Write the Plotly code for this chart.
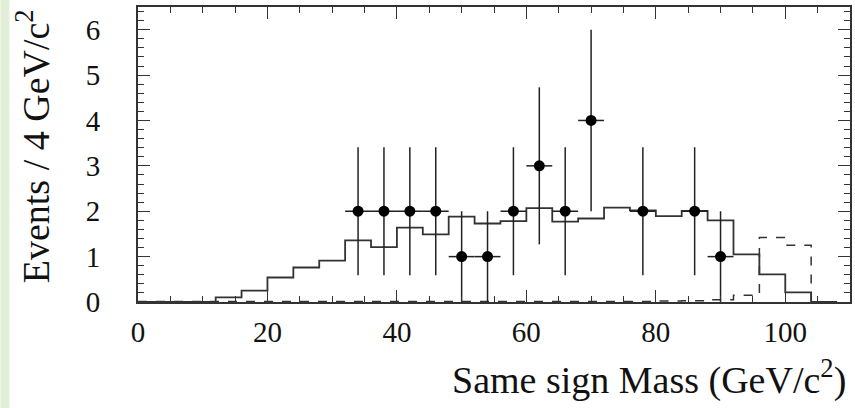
import plotly.graph_objects as go

# ---- data ----
bin_edges = [0, 4, 8, 12, 16, 20, 24, 28, 32, 36, 40, 44, 48, 52, 56, 60, 64, 68,
             72, 76, 80, 84, 88, 92, 96, 100, 104, 108]
solid_hist = [0, 0, 0, 0.10, 0.25, 0.54, 0.76, 0.91, 1.36, 1.21, 1.64, 1.49, 1.88,
              1.73, 1.78, 2.07, 1.77, 1.84, 2.08, 2.02, 1.89, 2.01, 1.80, 1.05,
              0.61, 0.21, 0]
dashed_hist = [0.01, 0.01, 0.01, 0.01, 0.01, 0.01, 0.01, 0.01, 0.01, 0.01, 0.01,
               0.01, 0.01, 0.01, 0.01, 0.01, 0.01, 0.01, 0.01, 0.01, 0.02, 0.03,
               0.05, 0.15, 1.42, 1.25, 0]
data_x = [34, 38, 42, 46, 50, 54, 58, 62, 66, 70, 78, 86, 90]
data_y = [2, 2, 2, 2, 1, 1, 2, 3, 2, 4, 2, 2, 1]
data_err = [1.41, 1.41, 1.41, 1.41, 1.0, 1.0, 1.41, 1.73, 1.41, 2.0, 1.41, 1.41, 1.0]
data_xerr = [2] * len(data_x)
x_ticks = [0, 20, 40, 60, 80, 100]
y_ticks = [0, 1, 2, 3, 4, 5, 6]


def step_xy(edges, vals):
    xs = list(edges)
    ys = list(vals) + [vals[-1]]
    return xs, ys


FONT = "Liberation Serif"
fig = go.Figure()

sx, sy = step_xy(bin_edges, dashed_hist)
fig.add_trace(go.Scatter(x=sx, y=sy, mode="lines", line_shape="hv",
                         line=dict(color="#333333", width=1.5, dash="dash"),
                         showlegend=False, hoverinfo="skip"))

sx, sy = step_xy(bin_edges, solid_hist)
fig.add_trace(go.Scatter(x=sx, y=sy, mode="lines", line_shape="hv",
                         line=dict(color="#333333", width=1.8),
                         showlegend=False, hoverinfo="skip"))

fig.add_trace(go.Scatter(
    x=data_x, y=data_y, mode="markers",
    marker=dict(color="black", size=11, symbol="circle"),
    error_y=dict(type="data", array=data_err, visible=True, width=0,
                 thickness=1.5, color="#222222"),
    error_x=dict(type="data", array=data_xerr, visible=True, width=0,
                 thickness=1.5, color="#222222"),
    showlegend=False))

axis_common = dict(
    showgrid=False, zeroline=False, showline=True, linecolor="#333333",
    linewidth=1.8, mirror="ticks", ticks="inside", tickcolor="#333333",
    tickwidth=1, tickfont=dict(family=FONT, size=29, color="#111111"),
)

fig.update_xaxes(range=[0, 110], tickvals=x_ticks, ticklen=12,
                 minor=dict(dtick=5, ticklen=6, ticks="inside",
                            tickcolor="#333333", tickwidth=1),
                 ticklabelstandoff=3, **axis_common)
fig.update_yaxes(range=[0, 6.5], tickvals=y_ticks, ticklen=12,
                 minor=dict(dtick=0.2, ticklen=6, ticks="inside",
                            tickcolor="#333333", tickwidth=1),
                 ticklabelstandoff=30, **axis_common)

L, R, T, B = 138, 3, 7, 106
W, H = 855, 408
pw = W - L - R
ph = H - T - B

fig.update_layout(
    width=W, height=H,
    margin=dict(l=L, r=R, t=T, b=B, pad=0),
    paper_bgcolor="white", plot_bgcolor="white",
    font=dict(family=FONT, color="#111111"),
    shapes=[dict(type="rect", xref="paper", yref="paper",
                 x0=-L / pw, x1=(9 - L) / pw, y0=-B / ph, y1=(H - B) / ph,
                 fillcolor="#e3eed9", line=dict(width=0), layer="below")],
    annotations=[
        dict(text="Same sign Mass (GeV/c<sup>2</sup>)", xref="paper", yref="paper",
             x=(850 - L) / pw, y=-(404 - (H - B)) / ph, xanchor="right",
             yanchor="bottom", showarrow=False,
             font=dict(family=FONT, size=38, color="#111111")),
        dict(text="Events / 4 GeV/c<sup>2</sup>", xref="paper", yref="paper",
             x=(33 - L) / pw, y=(H - B - 146) / ph, xanchor="center",
             yanchor="middle", textangle=-90, showarrow=False,
             font=dict(family=FONT, size=38, color="#111111")),
    ],
)

fig.write_html("out.html")
